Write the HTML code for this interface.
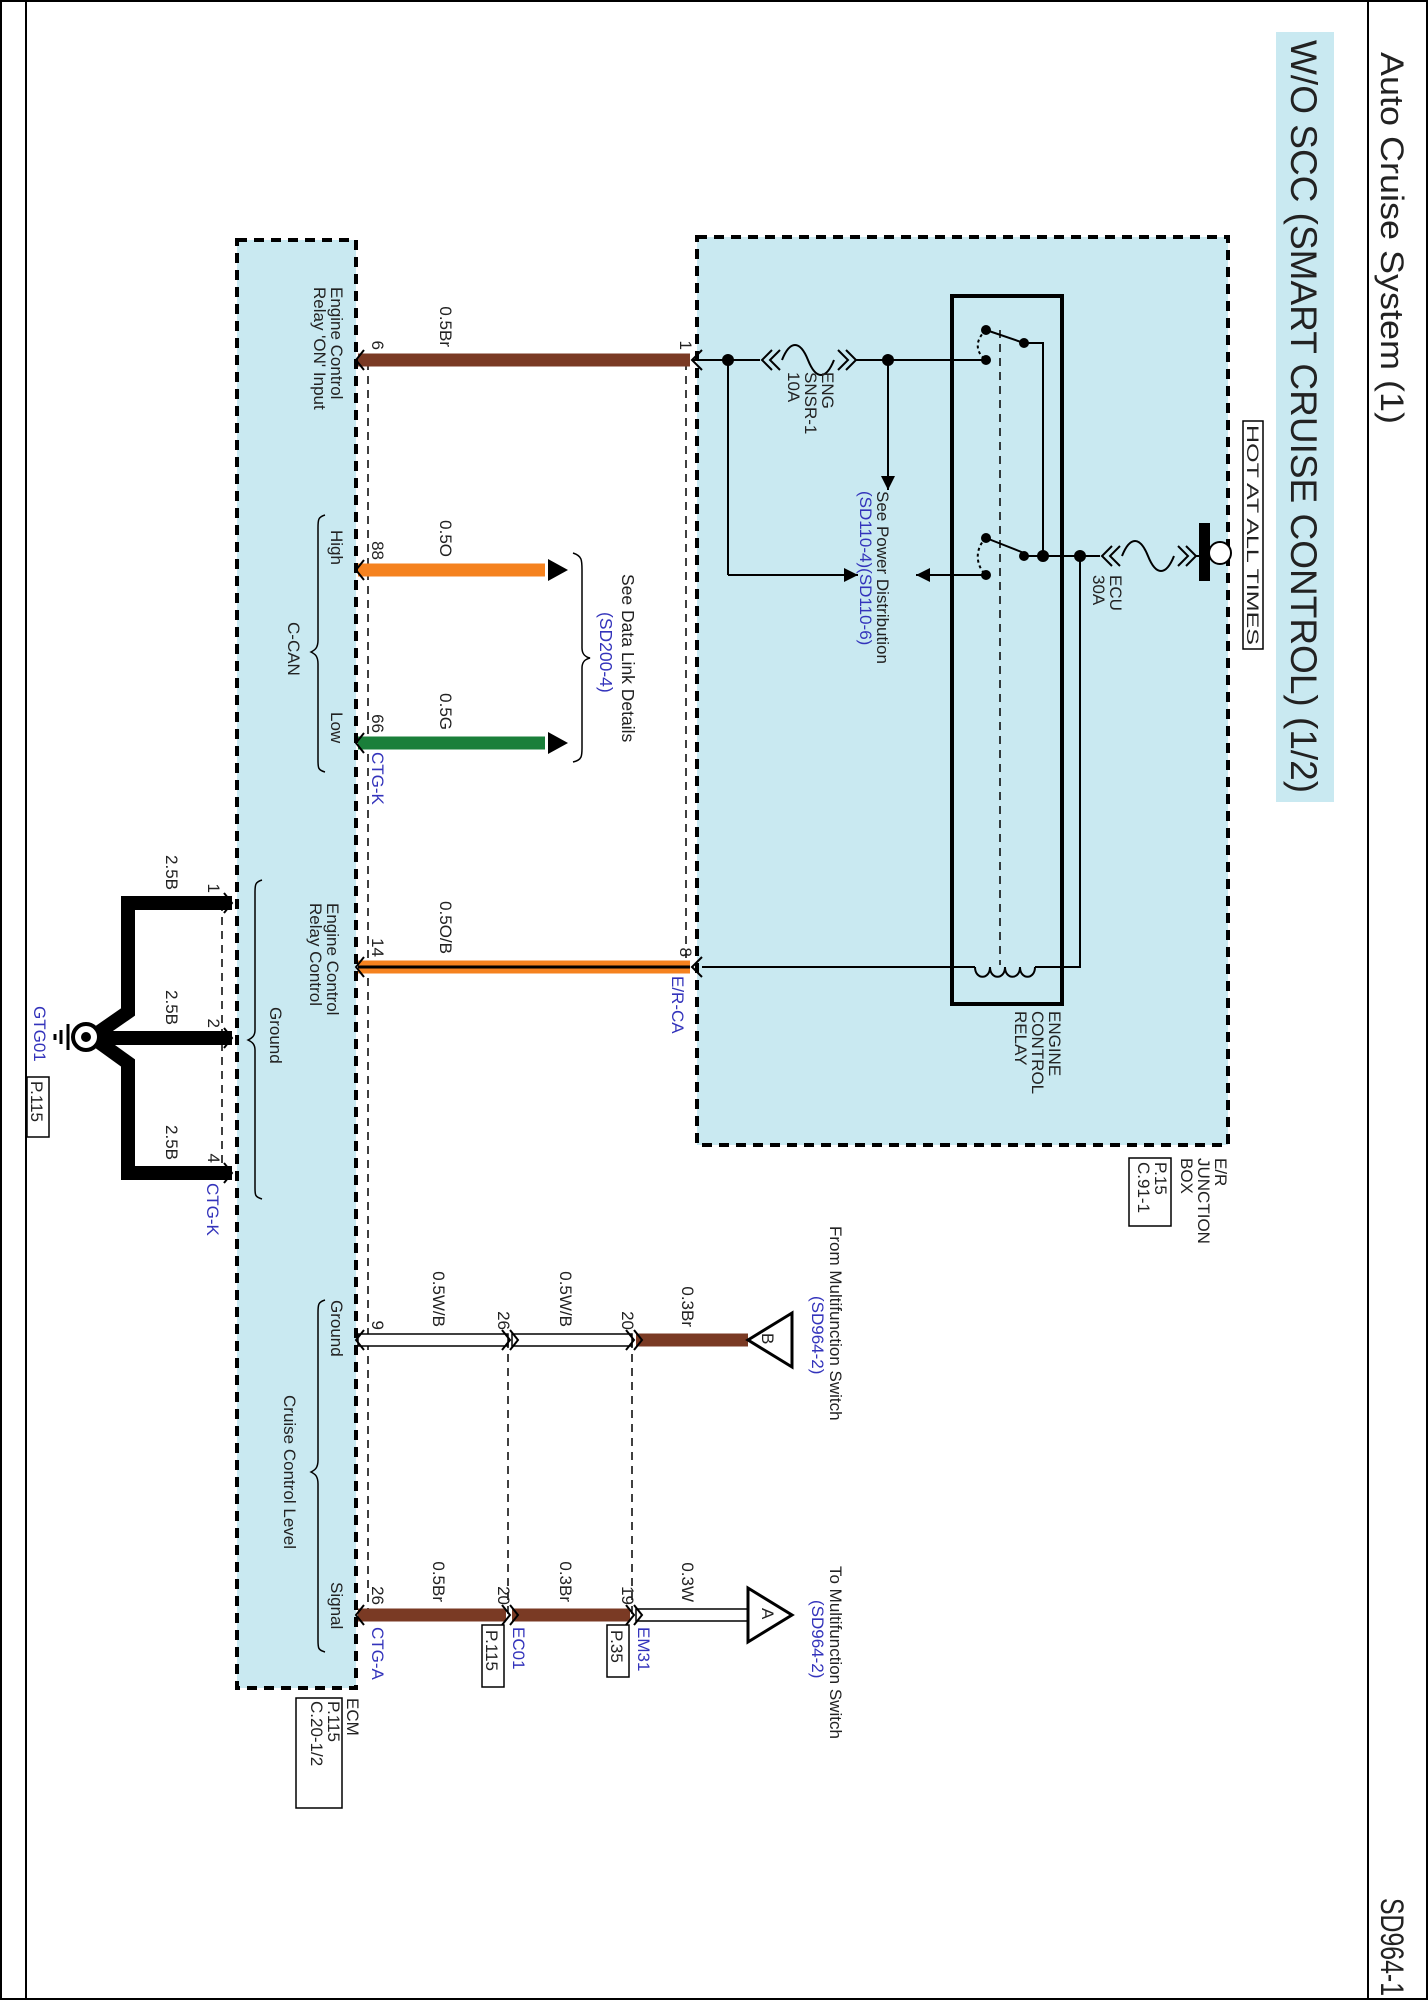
<!DOCTYPE html>
<html><head><meta charset="utf-8"><style>
html,body{margin:0;padding:0;background:#fff}
svg{display:block}
text{font-family:"Liberation Sans",sans-serif;fill:#222}
.b{fill:#3333bb}
</style></head><body>
<svg width="1428" height="2000" viewBox="0 0 1428 2000" xmlns="http://www.w3.org/2000/svg">
<defs>
<marker id="ah" viewBox="0 0 10 10" refX="10" refY="5" markerWidth="7" markerHeight="7" orient="auto"><path d="M0,0 L10,5 L0,10 z" fill="#000"/></marker>
</defs>
<!-- frame -->
<line x1="26" y1="0" x2="26" y2="2000" stroke="#000" stroke-width="2"/>
<line x1="1368" y1="0" x2="1368" y2="2000" stroke="#000" stroke-width="2"/>
<rect x="1" y="1" width="1426" height="1998" fill="none" stroke="#000" stroke-width="2"/>
<text transform="translate(1381,52) rotate(90)" font-size="32" textLength="372" lengthAdjust="spacingAndGlyphs">Auto Cruise System (1)</text>
<text transform="translate(1381,1898) rotate(90)" font-size="32" textLength="98" lengthAdjust="spacingAndGlyphs">SD964-1</text>
<!-- title box -->
<rect x="1276" y="32" width="58" height="770" fill="#c9e9f1"/>
<text transform="translate(1291,40) rotate(90)" font-size="37">W/O SCC (SMART CRUISE CONTROL) (1/2)</text>

<!-- junction box -->
<rect x="697" y="237" width="531" height="908" fill="#c9e9f1" stroke="#000" stroke-width="4" stroke-dasharray="10,7"/>
<!-- ECM box -->
<rect x="237" y="240" width="119" height="1448" fill="#c9e9f1" stroke="#000" stroke-width="4" stroke-dasharray="10,7"/>

<!-- dashed verticals -->
<g stroke="#000" stroke-width="1.5" stroke-dasharray="8,6" fill="none">
<line x1="368" y1="362" x2="368" y2="1620"/>
<line x1="686" y1="362" x2="686" y2="967"/>
<line x1="222" y1="903" x2="222" y2="1173"/>
<line x1="508" y1="1340" x2="508" y2="1615"/>
<line x1="632" y1="1340" x2="632" y2="1615"/>
<line x1="1000" y1="330" x2="1000" y2="965"/>
</g>

<!-- wires -->
<line x1="358" y1="360" x2="690" y2="360" stroke="#7a3a24" stroke-width="13"/>
<line x1="358" y1="570" x2="545" y2="570" stroke="#f5821f" stroke-width="13"/>
<path d="M548,559 L568,570 L548,581 z"/>
<line x1="358" y1="743" x2="545" y2="743" stroke="#1a7f3a" stroke-width="13"/>
<path d="M548,732 L568,743 L548,754 z"/>
<line x1="358" y1="967" x2="690" y2="967" stroke="#f5821f" stroke-width="13"/>
<line x1="358" y1="967" x2="690" y2="967" stroke="#000" stroke-width="3"/>
<!-- ground -->
<path d="M232,903 H128 V1012 L92,1037 L128,1063 V1173 H232" fill="none" stroke="#000" stroke-width="14" stroke-linejoin="miter"/>
<line x1="232" y1="1038" x2="95" y2="1038" stroke="#000" stroke-width="14"/>
<circle cx="86" cy="1037" r="13" fill="#fff" stroke="#000" stroke-width="4"/>
<circle cx="86" cy="1037" r="5"/>
<line x1="68" y1="1024" x2="68" y2="1050" stroke="#000" stroke-width="3"/>
<line x1="61" y1="1030" x2="61" y2="1044" stroke="#000" stroke-width="3"/>
<line x1="55" y1="1034" x2="55" y2="1040" stroke="#000" stroke-width="3"/>
<!-- white wires row 9 -->
<g stroke="#000" stroke-width="1.5">
<rect x="358" y="1334" width="150" height="12" fill="#fff"/>
<rect x="512" y="1334" width="120" height="12" fill="#fff"/>
</g>
<line x1="636" y1="1340" x2="748" y2="1340" stroke="#7a3a24" stroke-width="13"/>
<path d="M748,1340 L792,1313 L792,1367 z" fill="#fff" stroke="#000" stroke-width="3"/>
<text transform="translate(762,1333) rotate(90)" font-size="17">B</text>
<!-- signal row -->
<line x1="358" y1="1615" x2="506" y2="1615" stroke="#7a3a24" stroke-width="13"/>
<line x1="512" y1="1615" x2="630" y2="1615" stroke="#7a3a24" stroke-width="13"/>
<rect x="636" y="1609" width="112" height="12" fill="#fff" stroke="#000" stroke-width="1.5"/>
<path d="M748,1588 L748,1642 L792,1615 z" fill="#fff" stroke="#000" stroke-width="3"/>
<text transform="translate(762,1608) rotate(90)" font-size="17">A</text>

<!-- connector chevrons -->
<g fill="none" stroke="#000" stroke-width="2">
<path d="M364,350 L356,360 L364,370"/><path d="M364,560 L356,570 L364,580"/><path d="M364,733 L356,743 L364,753"/>
<path d="M364,957 L356,967 L364,977"/>
<path d="M224,893 L232,903 L224,913"/><path d="M224,1028 L232,1038 L224,1048"/><path d="M224,1163 L232,1173 L224,1183"/>
<path d="M364,1330 L356,1340 L364,1350"/><path d="M364,1605 L356,1615 L364,1625"/>
<path d="M502,1330 L510,1340 L502,1350"/><path d="M510,1330 L518,1340 L510,1350"/>
<path d="M626,1330 L634,1340 L626,1350"/><path d="M634,1330 L642,1340 L634,1350"/>
<path d="M502,1605 L510,1615 L502,1625"/><path d="M510,1605 L518,1615 L510,1625"/>
<path d="M626,1605 L634,1615 L626,1625"/><path d="M634,1605 L642,1615 L634,1625"/>
<path d="M702,350 L692,360 L702,370"/><path d="M702,957 L692,967 L702,977"/>
</g>

<!-- junction internals -->
<g stroke="#000" stroke-width="2" fill="none">
<line x1="692" y1="360" x2="760" y2="360"/>
<path d="M772,350 L762,360 L772,370 M780,350 L770,360 L780,370"/>
<path d="M782,360 C790,340 800,340 808,360 S826,380 834,360"/>
<path d="M846,350 L856,360 L846,370 M838,350 L848,360 L838,370"/>
<line x1="856" y1="360" x2="986" y2="360"/>
<line x1="888" y1="360" x2="888" y2="480"/>
<line x1="728" y1="360" x2="728" y2="575"/>
<line x1="728" y1="575" x2="848" y2="575"/>
<line x1="928" y1="575" x2="986" y2="575"/>
<rect x="952" y="296" width="110" height="708" stroke-width="4"/>
<line x1="986" y1="330" x2="1024" y2="343"/>
<path d="M1024,343 H1043 V556"/>
<path d="M986,330 C975,340 975,352 986,360" stroke-dasharray="3,3"/>
<line x1="986" y1="538" x2="1024" y2="553"/>
<path d="M986,538 C975,548 975,565 986,575" stroke-dasharray="3,3"/>
<line x1="1024" y1="556" x2="1100" y2="556"/>
<path d="M1112,546 L1102,556 L1112,566 M1120,546 L1110,556 L1120,566"/>
<path d="M1122,556 C1130,536 1140,536 1148,556 S1166,576 1174,556"/>
<path d="M1186,546 L1196,556 L1186,566 M1178,546 L1188,556 L1178,566"/>
<line x1="1196" y1="556" x2="1204" y2="556"/>
<path d="M1080,556 V967 H1035"/>
<path d="M1035,967 C1035,980 1020,980 1020,967 C1020,980 1005,980 1005,967 C1005,980 990,980 990,967 C990,980 975,980 975,967"/>
<line x1="975" y1="967" x2="702" y2="967"/>
</g>
<line x1="888" y1="470" x2="888" y2="490" stroke="#000" stroke-width="2" marker-end="url(#ah)"/>
<line x1="840" y1="575" x2="858" y2="575" stroke="#000" stroke-width="2" marker-end="url(#ah)"/>
<line x1="936" y1="575" x2="916" y2="575" stroke="#000" stroke-width="2" marker-end="url(#ah)"/>
<g>
<circle cx="728" cy="360" r="6"/><circle cx="888" cy="360" r="6"/>
<circle cx="986" cy="330" r="5"/><circle cx="986" cy="360" r="5"/><circle cx="1024" cy="343" r="5"/>
<circle cx="986" cy="538" r="5"/><circle cx="986" cy="575" r="5"/><circle cx="1024" cy="556" r="5"/>
<circle cx="1043" cy="556" r="6"/><circle cx="1080" cy="556" r="6"/>
</g>
<rect x="1199" y="523" width="11" height="58"/>
<circle cx="1220" cy="553" r="11" fill="#fff" stroke="#000" stroke-width="2"/>

<!-- HOT AT ALL TIMES -->
<rect x="1243" y="421" width="20" height="228" fill="#fff" stroke="#000" stroke-width="1.5"/>
<text transform="translate(1247,425) rotate(90)" font-size="17" textLength="220" lengthAdjust="spacingAndGlyphs">HOT AT ALL TIMES</text>

<!-- labels junction -->
<g font-size="17">
<text transform="translate(822,372) rotate(90)">ENG</text>
<text transform="translate(805,372) rotate(90)">SNSR-1</text>
<text transform="translate(788,372) rotate(90)">10A</text>
<text transform="translate(1110,575) rotate(90)">ECU</text>
<text transform="translate(1093,575) rotate(90)">30A</text>
<text transform="translate(877,491) rotate(90)">See Power Distribution</text>
<text class="b" transform="translate(860,491) rotate(90)">(SD110-4)(SD110-6)</text>
<text transform="translate(1049,1011) rotate(90)">ENGINE</text>
<text transform="translate(1032,1011) rotate(90)">CONTROL</text>
<text transform="translate(1015,1011) rotate(90)">RELAY</text>
<text transform="translate(1215,1158) rotate(90)">E/R</text>
<text transform="translate(1198,1158) rotate(90)">JUNCTION</text>
<text transform="translate(1181,1158) rotate(90)">BOX</text>
<text transform="translate(1155,1162) rotate(90)">P.15</text>
<text transform="translate(1138,1162) rotate(90)">C.91-1</text>
</g>
<rect x="1129" y="1158" width="42" height="68" fill="none" stroke="#000" stroke-width="1.5"/>

<!-- data link -->
<path d="M573,553 C582,556 582,560 582,570 V648 C582,655 586,657 590,658 C586,659 582,661 582,668 V748 C582,756 582,760 573,762" fill="none" stroke="#000" stroke-width="1.5"/>
<text transform="translate(622,574) rotate(90)" font-size="17.5">See Data Link Details</text>
<text class="b" transform="translate(600,612) rotate(90)" font-size="17.5">(SD200-4)</text>

<!-- wire labels -->
<g font-size="17" text-anchor="end">
<text transform="translate(440,347) rotate(90)">0.5Br</text>
<text transform="translate(440,557) rotate(90)">0.5O</text>
<text transform="translate(440,730) rotate(90)">0.5G</text>
<text transform="translate(440,954) rotate(90)">0.5O/B</text>
<text transform="translate(166,890) rotate(90)">2.5B</text>
<text transform="translate(166,1025) rotate(90)">2.5B</text>
<text transform="translate(166,1160) rotate(90)">2.5B</text>
<text transform="translate(433,1327) rotate(90)">0.5W/B</text>
<text transform="translate(560,1327) rotate(90)">0.5W/B</text>
<text transform="translate(682,1327) rotate(90)">0.3Br</text>
<text transform="translate(433,1602) rotate(90)">0.5Br</text>
<text transform="translate(560,1602) rotate(90)">0.3Br</text>
<text transform="translate(682,1602) rotate(90)">0.3W</text>
<!-- pins -->
<text transform="translate(372,350) rotate(90)">6</text>
<text transform="translate(372,560) rotate(90)">88</text>
<text transform="translate(372,733) rotate(90)">66</text>
<text transform="translate(372,957) rotate(90)">14</text>
<text transform="translate(680,350) rotate(90)">1</text>
<text transform="translate(680,957) rotate(90)">8</text>
<text transform="translate(208,893) rotate(90)">1</text>
<text transform="translate(208,1028) rotate(90)">2</text>
<text transform="translate(208,1163) rotate(90)">4</text>
<text transform="translate(372,1330) rotate(90)">9</text>
<text transform="translate(498,1330) rotate(90)">26</text>
<text transform="translate(622,1330) rotate(90)">20</text>
<text transform="translate(372,1605) rotate(90)">26</text>
<text transform="translate(498,1605) rotate(90)">20</text>
<text transform="translate(622,1605) rotate(90)">19</text>
</g>

<!-- ECM labels -->
<g font-size="17">
<text transform="translate(331,287) rotate(90)">Engine Control</text>
<text transform="translate(314,287) rotate(90)">Relay 'ON' Input</text>
<text transform="translate(331,530) rotate(90)">High</text>
<text transform="translate(331,712) rotate(90)">Low</text>
<text transform="translate(288,622) rotate(90)">C-CAN</text>
<text transform="translate(327,903) rotate(90)">Engine Control</text>
<text transform="translate(310,903) rotate(90)">Relay Control</text>
<text transform="translate(270,1007) rotate(90)">Ground</text>
<text transform="translate(331,1300) rotate(90)">Ground</text>
<text transform="translate(331,1582) rotate(90)">Signal</text>
<text transform="translate(284,1395) rotate(90)">Cruise Control Level</text>
<text class="b" transform="translate(372,752) rotate(90)">CTG-K</text>
<text class="b" transform="translate(207,1183) rotate(90)">CTG-K</text>
<text class="b" transform="translate(672,976) rotate(90)">E/R-CA</text>
<text class="b" transform="translate(34,1006) rotate(90)">GTG01</text>
<text class="b" transform="translate(372,1627) rotate(90)">CTG-A</text>
<text class="b" transform="translate(513,1627) rotate(90)">EC01</text>
<text class="b" transform="translate(638,1627) rotate(90)">EM31</text>
<text transform="translate(486,1630) rotate(90)">P.115</text>
<text transform="translate(611,1630) rotate(90)">P.35</text>
<text transform="translate(31,1081) rotate(90)">P.115</text>
<text transform="translate(347,1698) rotate(90)">ECM</text>
<text transform="translate(328,1701) rotate(90)">P.115</text>
<text transform="translate(311,1701) rotate(90)">C.20-1/2</text>
<text transform="translate(830,1226) rotate(90)">From Multifunction Switch</text>
<text class="b" transform="translate(812,1296) rotate(90)">(SD964-2)</text>
<text transform="translate(830,1566) rotate(90)">To Multifunction Switch</text>
<text class="b" transform="translate(812,1600) rotate(90)">(SD964-2)</text>
</g>
<g fill="none" stroke="#000" stroke-width="1.5">
<rect x="27" y="1077" width="22" height="60"/>
<rect x="482" y="1625" width="22" height="62"/>
<rect x="607" y="1625" width="22" height="52"/>
<rect x="296" y="1698" width="46" height="110"/>
<path d="M325,515 C318,517 318,520 318,528 V640 C318,648 315,650 311,652 C315,654 318,656 318,664 V760 C318,768 318,770 325,772"/>
<path d="M262,880 C255,882 255,885 255,893 V1030 C255,1036 252,1038 248,1040 C252,1042 255,1044 255,1050 V1188 C255,1195 255,1197 262,1199"/>
<path d="M325,1300 C318,1302 318,1305 318,1313 V1460 C318,1468 315,1470 311,1472 C315,1474 318,1476 318,1484 V1640 C318,1648 318,1650 325,1652"/>
</g>
</svg>
</body></html>
